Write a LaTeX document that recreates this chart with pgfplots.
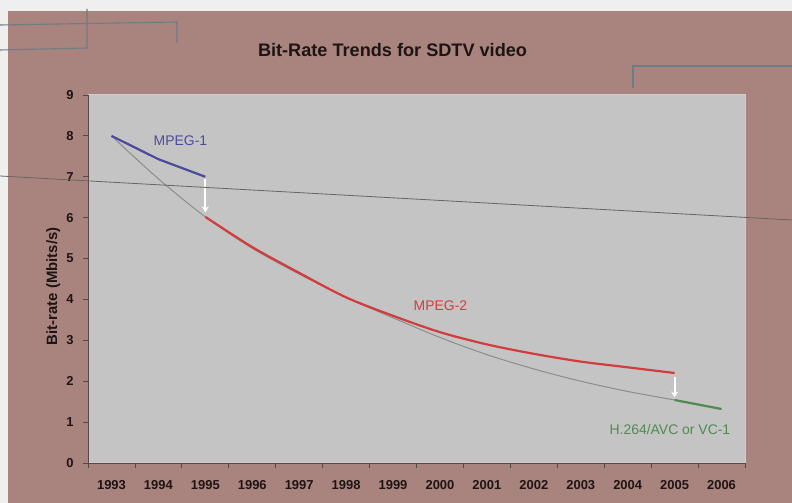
\documentclass[border=0pt]{standalone}
\usepackage{pgfplots}
\pgfplotsset{compat=1.18}
\usetikzlibrary{arrows.meta}
\usepackage{fontspec}
\setmainfont{Liberation Sans}
\definecolor{bglight}{HTML}{EFEFEF}
\definecolor{mauve}{HTML}{A9847F}
\definecolor{plotfill}{HTML}{C4C4C4}
\definecolor{plotedge}{HTML}{D2CDCD}
\definecolor{axiscol}{HTML}{5B4646}
\definecolor{labcol}{HTML}{1E1414}
\definecolor{mpegone}{HTML}{4B4B9B}
\definecolor{mpegtwo}{HTML}{D23C3C}
\definecolor{hcol}{HTML}{4F8B4F}
\definecolor{trend}{HTML}{8C8C8C}
\definecolor{decor}{HTML}{6E7C86}
\begin{document}
\begin{tikzpicture}[x=1bp,y=1bp]
\useasboundingbox (0,0) rectangle (792,503);
\fill[bglight] (0,0) rectangle (792,503);
\fill[mauve] (8,0) rectangle (792,492);
\begin{axis}[
  at={(88bp,40bp)}, anchor=south west,
  scale only axis, width=657bp, height=368bp,
  xmin=-0.5, xmax=13.5, ymin=0, ymax=9,
  axis x line*=bottom, axis y line*=left,
  axis line style={draw=axiscol, line width=0.8bp, -},
  axis background/.style={fill=plotfill, draw=plotedge, line width=1bp},
  tick align=outside, major tick length=5bp,
  tick style={draw=axiscol, line width=0.8bp},
  ytick={0,1,...,9},
  xtick={-0.5,0.5,...,13.5}, xticklabels={},
  extra x ticks={0,1,2,3,4,5,6,7,8,9,10,11,12,13},
  extra x tick labels={1993,1994,1995,1996,1997,1998,1999,2000,2001,2002,2003,2004,2005,2006},
  extra x tick style={major tick length=0pt},
  /pgf/number format/assume math mode=true,
  tick label style={font=\fontsize{13}{15}\selectfont\bfseries, text=labcol},
  xticklabel style={yshift=-14bp},
  yticklabel style={xshift=-6bp},
  title={Bit-Rate Trends for SDTV video},
  title style={at={(axis description cs:0.4635,1.106)}, anchor=center, font=\fontsize{18.2}{20}\selectfont\bfseries, text=labcol},
  ylabel={Bit-rate (Mbits/s)},
  ylabel style={at={(axis description cs:-0.053,0.48)}, anchor=center, font=\fontsize{15}{17}\selectfont\bfseries, text=labcol},
  clip=false,
]
\addplot[trend, line width=1bp, smooth] coordinates {(0,8.0)(1,6.95)(2,6.02)(3,5.25)(4,4.62)(5,4.05)(6,3.55)(7,3.07)(8,2.65)(9,2.3)(10,2.0)(11,1.75)(12,1.54)(13,1.32)};
\addplot[mpegone, line width=2.2bp] coordinates {(0,8.0)(1,7.43)(2,7.0)};
\addplot[mpegtwo, line width=2.2bp, smooth] coordinates {(2,6.02)(3,5.28)(4,4.65)(5,4.05)(6,3.6)(7,3.2)(8,2.9)(9,2.67)(10,2.48)(11,2.34)(12,2.2)};
\addplot[hcol, line width=2.2bp] coordinates {(12,1.54)(13,1.32)};
\draw[white, line width=1.8bp, -{Stealth[length=6bp,width=7bp]}] (axis cs:2,6.94) -- (axis cs:2,6.13);
\draw[white, line width=1.8bp, -{Stealth[length=6bp,width=7bp]}] (axis cs:12,2.1) -- (axis cs:12,1.6);
\node[text=mpegone, font=\fontsize{14}{16}\selectfont] at (axis cs:1.47,7.87) {MPEG-1};
\node[text=mpegtwo, font=\fontsize{14}{16}\selectfont] at (axis cs:7.01,3.84) {MPEG-2};
\node[text=hcol, font=\fontsize{14}{16}\selectfont] at (axis cs:11.9,0.81) {H.264/AVC or VC-1};
\end{axis}
\draw[decor, line width=1.1bp] (0,478) -- (177,481) -- (177,460);
\draw[decor, line width=1.1bp] (87,494) -- (87,455) -- (0,453);
\draw[decor, line width=1.1bp] (792,437) -- (633,437) -- (633,415);
\draw[black!60, line width=0.8bp] (0,327) -- (792,283);
\end{tikzpicture}
\end{document}
